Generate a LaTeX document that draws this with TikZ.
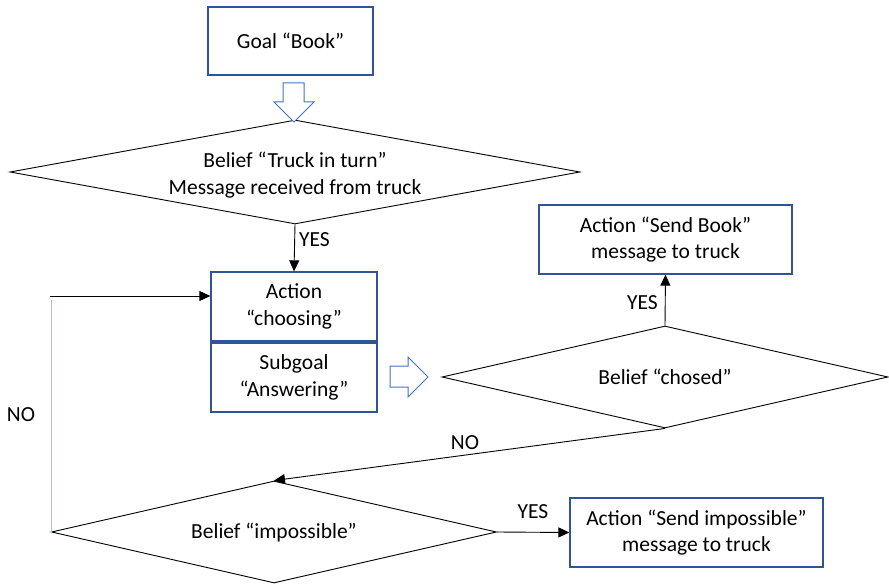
\documentclass[tikz,border=0pt]{standalone}
\usepackage{fontspec}
\setmainfont{Carlito}
\usetikzlibrary{shapes.geometric,arrows.meta}
\definecolor{boxblue}{HTML}{2F5597}
\definecolor{arrowblue}{HTML}{4472C4}
\definecolor{paleblue}{HTML}{A9BEE0}
\begin{document}
\begin{tikzpicture}[x=1pt,y=-1pt,
  every node/.style={font=\fontsize{21.5}{26.5}\selectfont, align=center},
  actbox/.style={draw=boxblue, line width=1.3pt, rectangle, inner sep=0pt},
  decision/.style={draw=black, line width=0.9pt, diamond, aspect=5, inner sep=0pt},
  flow/.style={draw=black, line width=0.9pt, -{Triangle[length=11pt,width=10pt]}},
  hollow/.style={draw=arrowblue, line width=1pt, fill=white, line join=miter},
  lbl/.style={inner sep=0pt}]
\useasboundingbox (0,0) rectangle (889,585);

% boxes
\node[actbox, minimum width=165pt, minimum height=68pt] (goal) at (290.5,41) {Goal “Book”};
\node[actbox, minimum width=166pt, minimum height=69pt] (act) at (294,306.5) {Action\\“choosing”};
\node[actbox, minimum width=166pt, minimum height=69pt] (sub) at (294,377.5) {Subgoal\\“Answering”};
\node[actbox, minimum width=253pt, minimum height=69pt] (book) at (665.5,239.5) {Action “Send Book”\\message to truck};
\node[actbox, minimum width=253pt, minimum height=69pt] (imp) at (696.5,532.5) {Action “Send impossible”\\message to truck};

% decisions (the first one's two-line text sits a little below its centre)
\node[decision, minimum width=570pt, minimum height=104pt] (d1) at (295,172) {};
\node (d1text) at ([yshift=-3pt]d1.center) {Belief “Truck in turn”\\Message received from truck};
\node[decision, minimum width=446pt, minimum height=102pt] (d2) at (665,377) {Belief “chosed”};
\node[decision, minimum width=445pt, minimum height=102pt] (d3) at (274,532) {Belief “impossible”};

% hollow block arrows
\draw[hollow] (283,83) -- (304,83) -- (304,102) -- (314,102) -- (294,122)
  -- (274,102) -- (283,102) -- cycle;
\draw[hollow] (390,366) -- (408,366) -- (408,357) -- (428,377) -- (408,397)
  -- (408,387) -- (390,387) -- cycle;

% connectors
\draw[flow] (d1.south) -- (act.north);
\node[lbl, anchor=west] (yes1) at (299,240) {YES};

\draw[flow] (d2.north) -- (book.south);
\node[lbl, anchor=east] (yes2) at (658,303) {YES};

\draw[flow] (d2.south) -- (d3.north);
\node[lbl] (no1) at (465,443) {NO};

\draw[flow] (d3.east) -- (imp.west);
\node[lbl] (yes3) at (533,512) {YES};

\coordinate (corner) at (51,300);
\coordinate (loop) at (50,296);
\draw[paleblue, line width=1pt] (d3.west) -- (d3.west -| corner) -- (corner);
\draw[flow] (loop) -- (loop -| act.west);
\node[lbl] (no2) at (21,415) {NO};
\end{tikzpicture}
\end{document}
